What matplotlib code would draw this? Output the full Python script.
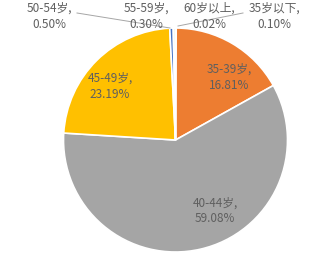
import matplotlib
matplotlib.use("Agg")
import matplotlib.pyplot as plt

plt.rcParams['font.family'] = ['Noto Sans CJK SC', 'DejaVu Sans']

# 数据
labels = ['35岁以下', '35-39岁', '40-44岁', '45-49岁', '50-54岁', '55-59岁', '60岁以上']
values = [0.10, 16.81, 59.08, 23.19, 0.50, 0.30, 0.02]
colors = ['#5B9BD5', '#ED7D31', '#A5A5A5', '#FFC000', '#4472C4', '#70AD47', '#255E91']

fig = plt.figure(figsize=(3.27, 2.60), dpi=100)
W, H = 327, 260
cx, cy, r = 175.5, 140, 112
ax = fig.add_axes([(cx - r) / W, 1 - (cy + r) / H, 2 * r / W, 2 * r / H])
ax.axis('off')

ax.pie(values, colors=colors, startangle=90, counterclock=False, radius=1,
       wedgeprops=dict(edgecolor='white', linewidth=1.2))
ax.set_xlim(-1, 1)
ax.set_ylim(-1, 1)

def px(x, y):
    return ((x - cx) / r, (cy - y) / r)

txt = dict(fontsize=8.5, color='#5f5f5f', ha='center', va='center', linespacing=1.3)
# 内部标签
inside = {1: (229, 77), 3: (110, 86), 2: (215, 211)}
for i, (x, y) in inside.items():
    ax.text(*px(x, y), f'{labels[i]},\n{values[i]:.2f}%', **txt)

# 外部标签
outside = {4: (49, 16), 5: (146, 16), 6: (209, 16), 0: (274, 16)}
for i, (x, y) in outside.items():
    ax.text(*px(x, y), f'{labels[i]},\n{values[i]:.2f}%', clip_on=False, **txt)

# 引导线
lc = '#A6A6A6'
for (x1, y1), (x2, y2) in [((77, 13), (170, 28)), ((178, 26), (243, 13))]:
    a, b = px(x1, y1)
    c, d = px(x2, y2)
    ax.plot([a, c], [b, d], color=lc, lw=0.7, clip_on=False)

fig.savefig('out.png', dpi=100)
